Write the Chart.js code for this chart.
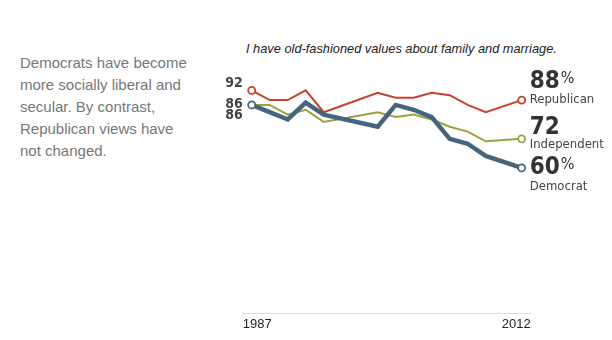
<!DOCTYPE html>
<html>
<head>
<meta charset="utf-8">
<script src="https://cdn.jsdelivr.net/npm/chart.js@4/dist/chart.umd.min.js"></script>
<style>
  html, body { margin: 0; padding: 0; background: #fff; }
  #wrap { position: relative; width: 612px; height: 340px; overflow: hidden; }
  #chart { position: absolute; left: 0; top: 0; }
  .note {
    position: absolute; left: 20px; top: 52px; width: 172px;
    font: 15px/22px "Liberation Sans", Arial, sans-serif; color: #777;
  }
  .title {
    position: absolute; left: 246px; top: 41px; white-space: nowrap;
    font: italic 12.8px "Liberation Sans", Arial, sans-serif; color: #222;
  }
</style>
</head>
<body>
<div id="wrap">
  <div class="note">Democrats have become more socially liberal and secular. By contrast, Republican views have not changed.</div>
  <div class="title">I have old-fashioned values about family and marriage.</div>
  <canvas id="chart" width="612" height="340"></canvas>
</div>
<script>
// survey slots along the x axis (first = 1987, last = 2012)
const slots = [0,1,2,3,4,5,6,7,8,9,10,11,12,13,14,15];
const tickLabels = ["1987", "2012"];

// percent agreeing, by party
const republican  = [92,88,88,92,83,null,null,91,89,89,91,90,86,83,null,88];
const independent = [86,86,82,84,79,null,null,83,81,82,80,77,75,71,null,72];
const democrat    = [86,83,80,87,82,null,null,77,86,84,81,72,70,65,null,60];

const RED = "#c8412f", OLIVE = "#9ba23b", BLUE = "#44657f";
const LABEL_FONT = '"Liberation Sans Narrow", "DejaVu Sans Condensed", "Liberation Sans", sans-serif';

function lastIndex(arr){
    for (let i = arr.length - 1; i >= 0; i--) if (arr[i] != null) return i;
    return -1;
}

function endPoints(showFirst){
    return function(ctx){
        const arr = ctx.dataset.data;
        if (ctx.dataIndex === lastIndex(arr)) return 3.5;
        if (showFirst && ctx.dataIndex === 0) return 3.5;
        return 0;
    };
}

/* labels at start and end of lines */
const lineLabels = {
    id: "lineLabels",
    afterDatasetsDraw(chart){
        const c = chart.ctx;
        const x = chart.scales.x, y = chart.scales.y;
        c.save();

        // start values
        c.fillStyle = "#444";
        c.font = "bold 14px " + LABEL_FONT;
        c.textAlign = "right";
        c.textBaseline = "middle";
        const x0 = x.getPixelForValue(slots[0]) - 9;
        c.fillText(String(republican[0]), x0, y.getPixelForValue(republican[0]) - 7);
        c.fillText(String(independent[0]), x0, y.getPixelForValue(independent[0]) - 1);
        c.fillText(String(democrat[0]), x0, y.getPixelForValue(democrat[0]) + 10);

        // end values
        const series = [
            {data: republican,  name: "Republican",  pct: true,  big: -18, small: 0},
            {data: independent, name: "Independent", pct: false, big: -11, small: 6},
            {data: democrat,    name: "Democrat",    pct: true,  big: 0,   small: 19}
        ];
        const xe = x.getPixelForValue(slots[slots.length - 1]) + 8;
        c.textAlign = "left";
        series.forEach(s => {
            const v = s.data[lastIndex(s.data)];
            const py = y.getPixelForValue(v);
            c.fillStyle = "#333";
            c.font = "bold 24px " + LABEL_FONT;
            c.textBaseline = "middle";
            c.fillText(String(v), xe, py + s.big);
            const w = c.measureText(String(v)).width;
            if (s.pct){
                c.font = "16px " + LABEL_FONT;
                c.fillText("%", xe + w + 1, py + s.big - 3);
            }
            c.fillStyle = "#444";
            c.font = "13px " + LABEL_FONT;
            c.fillText(s.name, xe, py + s.small);
        });
        c.restore();
    }
};

new Chart(document.getElementById("chart"), {
    type: "line",
    data: {
        labels: slots,
        datasets: [
            {label: "Democrat", data: democrat, borderColor: BLUE, borderWidth: 4.5,
             pointRadius: endPoints(true), pointBorderWidth: 1.8, pointBackgroundColor: "#fff", pointBorderColor: BLUE},
            {label: "Independent", data: independent, borderColor: OLIVE, borderWidth: 2,
             pointRadius: endPoints(false), pointBorderWidth: 1.8, pointBackgroundColor: "#fff", pointBorderColor: OLIVE},
            {label: "Republican", data: republican, borderColor: RED, borderWidth: 2,
             pointRadius: endPoints(true), pointBorderWidth: 1.8, pointBackgroundColor: "#fff", pointBorderColor: RED}
        ]
    },
    options: {
        responsive: false,
        animation: false,
        spanGaps: true,
        clip: false,
        layout: {padding: {left: 242.7, right: 81.3, top: 71, bottom: 5}},
        elements: {line: {tension: 0, borderJoinStyle: "miter", borderCapStyle: "butt"}},
        plugins: {legend: {display: false}, tooltip: {enabled: false}, title: {display: false}},
        scales: {
            x: {
                type: "linear",
                min: -0.5, max: 15.5,
                grid: {display: false, drawTicks: false},
                border: {display: true, color: "#ddd", width: 1},
                ticks: {
                    stepSize: 16,
                    align: "inner",
                    padding: 3,
                    color: "#222",
                    font: {family: '"Liberation Sans", Arial, sans-serif', size: 13},
                    maxRotation: 0,
                    callback: (v, i, ticks) => i === 0 ? tickLabels[0] : tickLabels[tickLabels.length - 1]
                }
            },
            y: {display: false, min: 0, max: 100}
        }
    },
    plugins: [lineLabels]
});
</script>
</body>
</html>
